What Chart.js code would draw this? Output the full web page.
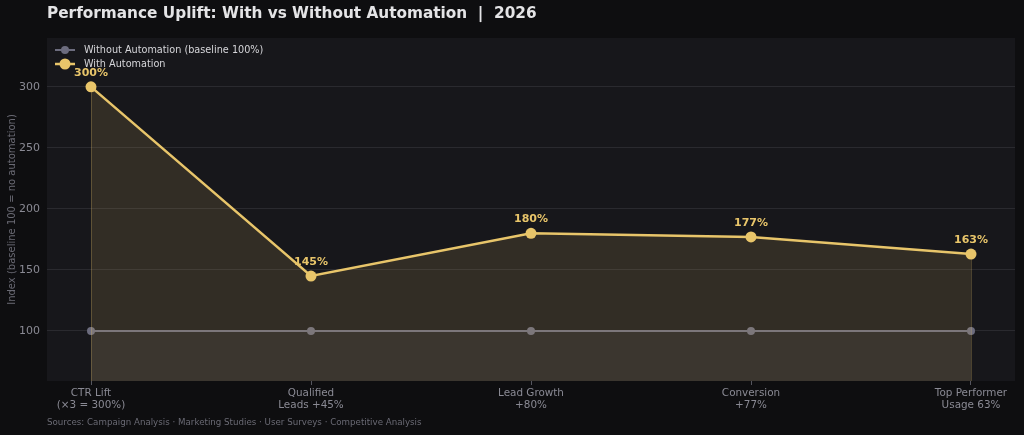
<!DOCTYPE html>
<html>
<head>
<meta charset="utf-8">
<script src="https://cdn.jsdelivr.net/npm/chart.js@4.4.1/dist/chart.umd.min.js"></script>
<style>
  html, body { margin: 0; padding: 0; background: #0e0e10; }
  #wrap { width: 1024px; height: 435px; }
</style>
</head>
<body>
<div id="wrap"><canvas id="chart" width="1024" height="435"></canvas></div>
<script>
// Chart data
const categories = [
    ['CTR Lift', '(×3 = 300%)'],
    ['Qualified', 'Leads +45%'],
    ['Lead Growth', '+80%'],
    ['Conversion', '+77%'],
    ['Top Performer', 'Usage 63%']
];
const withoutAutomation = [100, 100, 100, 100, 100];
const withAutomation = [300, 145, 180, 177, 163];
const yTicks = [100, 150, 200, 250, 300];

const titleText = 'Performance Uplift: With vs Without Automation  |  2026';
const sourceText = 'Sources: Campaign Analysis · Marketing Studies · User Surveys · Competitive Analysis';

const GOLD = '#e8c56a';
const GREY = '#6c6c7e';
const FONT = '"DejaVu Sans", sans-serif';

const toPoints = arr => arr.map((v, i) => ({ x: i, y: v }));

const backdrop = {
    id: 'backdrop',
    beforeDraw(chart) {
        const { ctx, chartArea: a } = chart;
        ctx.save();
        ctx.fillStyle = '#0e0e10';
        ctx.fillRect(0, 0, chart.width, chart.height);
        ctx.fillStyle = '#17171b';
        ctx.fillRect(a.left, a.top, a.right - a.left, a.bottom - a.top);
        ctx.restore();
    },
    afterDatasetsDraw(chart) {
        // faint edges on the fill at both ends
        const { ctx, chartArea: a } = chart;
        const pts = chart.getDatasetMeta(1).data;
        ctx.save();
        ctx.strokeStyle = 'rgba(232,197,106,0.25)';
        ctx.lineWidth = 1;
        [pts[0], pts[pts.length - 1]].forEach(p => {
            ctx.beginPath();
            ctx.moveTo(Math.round(p.x) + 0.5, p.y);
            ctx.lineTo(Math.round(p.x) + 0.5, a.bottom);
            ctx.stroke();
        });
        ctx.restore();
    },
    afterDraw(chart) {
        const { ctx } = chart;
        ctx.save();
        ctx.textBaseline = 'middle';
        ctx.fillStyle = '#e4e4e6';
        ctx.font = `bold 15.3px ${FONT}`;
        ctx.fillText(titleText, 47, 14);
        ctx.fillStyle = '#6a6a74';
        ctx.font = `8.7px ${FONT}`;
        ctx.fillText(sourceText, 47, 423);

        // value labels above gold points
        const meta = chart.getDatasetMeta(1);
        ctx.fillStyle = GOLD;
        ctx.font = `bold 11px ${FONT}`;
        ctx.textAlign = 'center';
        meta.data.forEach((pt, i) => {
            ctx.fillText(withAutomation[i] + '%', pt.x, pt.y - 14);
        });

        // legend (line + marker handles)
        ctx.textAlign = 'left';
        ctx.font = `9.7px ${FONT}`;
        const items = [
            { label: 'Without Automation (baseline 100%)', color: GREY, lw: 2, r: 4 },
            { label: 'With Automation', color: GOLD, lw: 2.5, r: 5.5 }
        ];
        items.forEach((it, k) => {
            const y = 50 + k * 14;
            ctx.strokeStyle = it.color;
            ctx.lineWidth = it.lw;
            ctx.beginPath();
            ctx.moveTo(55, y);
            ctx.lineTo(75, y);
            ctx.stroke();
            ctx.fillStyle = it.color;
            ctx.beginPath();
            ctx.arc(65, y, it.r, 0, Math.PI * 2);
            ctx.fill();
            ctx.fillStyle = '#d6d6da';
            ctx.fillText(it.label, 84, y);
        });
        ctx.restore();
    }
};

new Chart(document.getElementById('chart'), {
    type: 'line',
    data: {
        datasets: [
            {
                label: 'Without Automation (baseline 100%)',
                data: toPoints(withoutAutomation),
                borderColor: GREY,
                backgroundColor: 'rgba(108,108,124,0.13)',
                pointBackgroundColor: GREY,
                pointBorderWidth: 0,
                pointRadius: 4,
                borderWidth: 2,
                fill: 'start',
                order: 1
            },
            {
                label: 'With Automation',
                data: toPoints(withAutomation),
                borderColor: GOLD,
                backgroundColor: 'rgba(232,197,106,0.13)',
                pointBackgroundColor: GOLD,
                pointBorderWidth: 0,
                pointRadius: 5.5,
                borderWidth: 2.5,
                fill: 'start',
                order: 0
            }
        ]
    },
    options: {
        responsive: false,
        animation: false,
        layout: { padding: { left: 0, right: 9, top: 38, bottom: 0 } },
        plugins: { legend: { display: false }, tooltip: { enabled: false } },
        scales: {
            x: {
                type: 'linear',
                min: -0.2,
                max: 4.2,
                afterFit: s => { s.height = 54; },
                afterBuildTicks: s => { s.ticks = categories.map((_, i) => ({ value: i })); },
                ticks: {
                    color: '#8a8a94',
                    font: { family: FONT, size: 10.4 },
                    padding: 2,
                    maxRotation: 0,
                    autoSkip: false,
                    callback: v => categories[v]
                },
                grid: { display: true, drawOnChartArea: false, tickLength: 4, color: '#55555e' },
                border: { display: false }
            },
            y: {
                min: 59,
                max: 340,
                afterFit: s => { s.width = 47; },
                afterBuildTicks: s => { s.ticks = yTicks.map(v => ({ value: v })); },
                ticks: {
                    color: '#8a8a94',
                    font: { family: FONT, size: 11 },
                    padding: 7
                },
                title: {
                    display: true,
                    text: 'Index (baseline 100 = no automation)',
                    color: '#6a6a74',
                    font: { family: FONT, size: 10 },
                    padding: { top: 6, bottom: 0 }
                },
                grid: { color: '#2a2a2f', drawTicks: false, lineWidth: 1 },
                border: { display: false }
            }
        }
    },
    plugins: [backdrop]
});
</script>
</body>
</html>
